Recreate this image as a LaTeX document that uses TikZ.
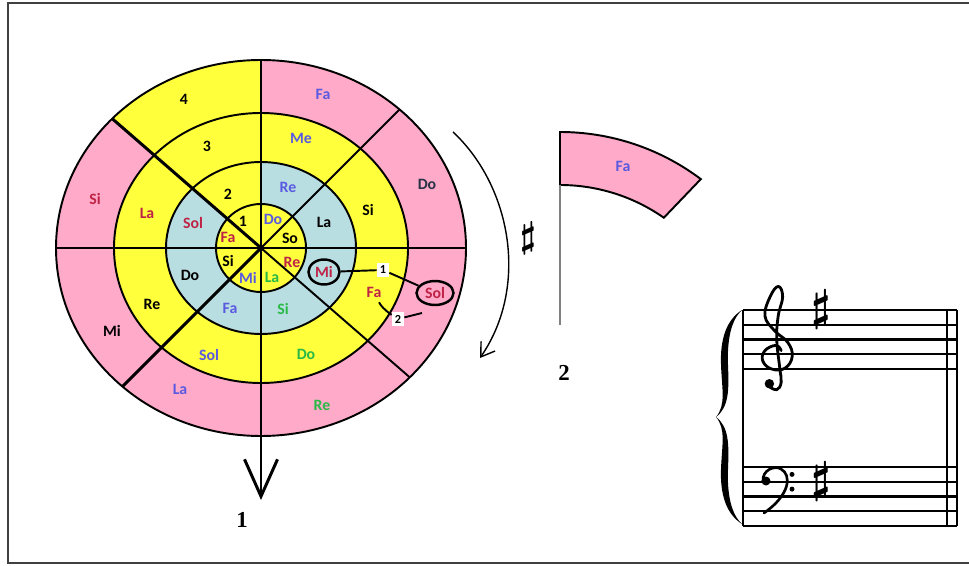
\documentclass[tikz,border=0pt]{standalone}
\usepackage{fontspec}
\setmainfont{Carlito}
\newfontfamily\numfont{Liberation Serif}
\usetikzlibrary{arrows.meta, shapes.geometric}

\definecolor{wheelpink}{RGB}{255,170,201}
\definecolor{wheelyellow}{RGB}{255,255,60}
\definecolor{wheelblue}{RGB}{185,222,226}
\definecolor{noteblue}{RGB}{90,90,225}
\definecolor{notered}{RGB}{190,35,70}
\definecolor{notegreen}{RGB}{40,185,70}
\definecolor{notedark}{RGB}{40,50,70}

\begin{document}
\begin{tikzpicture}[x=0.02cm, y=0.02cm,
  lbl/.style={font=\fontsize{9}{10}\selectfont\bfseries, inner sep=0pt},
  numbox/.style={fill=white, font=\fontsize{7}{8}\selectfont\bfseries, inner sep=1pt, minimum width=0.24cm, minimum height=0.28cm},
  ring/.style={line width=1.1pt},
  staffline/.style={line width=1.3pt},
  sharpsign/.style={inner sep=0pt, font=\boldmath\fontsize{25}{25}\selectfont},
  clefline/.style={line width=1.6pt, line cap=round, line join=round},
  bignum/.style={font=\numfont\bfseries\fontsize{13}{14}\selectfont}]
  \useasboundingbox (0,0) rectangle (969,565);

  % Frame
  \draw[line width=1.1pt, black!75] (980,2) -- (8,2) -- (8,562) -- (980,562);

  % Wheel: coloured rings, outer to inner
  \coordinate (C) at (261,317);
  \fill[wheelpink] (C) ellipse [x radius=205, y radius=188];
  \begin{scope}
    \clip (C) ellipse [x radius=205, y radius=188];
    \fill[wheelyellow] (C) -- +(90:400) -- +(115:400) -- +(139:400) -- cycle;
  \end{scope}
  \fill[wheelyellow] (C) ellipse [x radius=147, y radius=135];
  \fill[wheelblue] (C) ellipse [x radius=95, y radius=86];
  \begin{scope}
    \clip (C) ellipse [x radius=95, y radius=86];
    \fill[wheelyellow] (C) -- +(90:400) -- +(115:400) -- +(139:400) -- cycle;
  \end{scope}
  \fill[wheelyellow] (C) ellipse [x radius=45, y radius=44];

  % Ring borders
  \draw[ring] (C) ellipse [x radius=205, y radius=188];
  \draw[ring] (C) ellipse [x radius=147, y radius=135];
  \draw[ring] (C) ellipse [x radius=95, y radius=86];
  \draw[ring] (C) ellipse [x radius=45, y radius=44];

  % Spokes
  \draw[ring] (C) ++(-205,0) -- ++(410,0);
  \draw[ring] (C) -- ++(0,188);
  \begin{scope}
    \clip (C) ellipse [x radius=205, y radius=188];
    \draw[ring] (C) -- +(45:300);
    \draw[ring] (C) -- +(319:300);
    \draw[line width=1.7pt] (C) -- +(139:300);
    \draw[line width=1.7pt] (C) -- +(225:300);
  \end{scope}
  \fill (C) circle (3);

  % Down arrow
  \coordinate (arrowEnd) at (261,65);
  \draw[line width=1.7pt, -{Straight Barb[length=7.4mm, width=6.6mm]}] (C) -- (arrowEnd);
  \node[bignum] (stepOne) at (242,45) {1};

  % Outer ring
  \node[lbl, noteblue] (faOut) at (323,471) {Fa};
  \node[lbl, notedark] (doOut) at (427,381) {Do};
  \node[lbl, notered, ellipse, draw=black, line width=1.4pt, minimum width=0.74cm, minimum height=0.48cm] (solOut) at (435,272) {Sol};
  \node[lbl, notegreen] (reOut) at (322,160) {Re};
  \node[lbl, noteblue] (laOut) at (180,176) {La};
  \node[lbl] (miOut) at (112,234) {Mi};
  \node[lbl, notered] (siOut) at (95,366) {Si};
  \node[lbl] (fourOut) at (184,466) {4};

  % Third ring
  \node[lbl, noteblue] (meThree) at (301,427) {Me};
  \node[lbl] (siThree) at (368,355) {Si};
  \node[lbl, notered] (faThree) at (374,273) {Fa};
  \node[lbl, notegreen] (doThree) at (306,211) {Do};
  \node[lbl, noteblue] (solThree) at (209,210) {Sol};
  \node[lbl] (reThree) at (152,261) {Re};
  \node[lbl, notered] (laThree) at (147,352) {La};
  \node[lbl] (threeThree) at (207,419) {3};

  % Second ring
  \node[lbl, noteblue] (reTwo) at (288,378) {Re};
  \node[lbl] (laTwo) at (324,343) {La};
  \node[lbl, notered, ellipse, draw=black, line width=1.4pt, minimum width=0.62cm, minimum height=0.5cm] (miTwo) at (324,293) {Mi};
  \node[lbl, notegreen] (siTwo) at (283,256) {Si};
  \node[lbl, noteblue] (faTwo) at (230,257) {Fa};
  \node[lbl] (doTwo) at (190,290) {Do};
  \node[lbl, notered] (solTwo) at (193,342) {Sol};
  \node[lbl] (twoTwo) at (228,371) {2};

  % Inner ring
  \node[lbl, noteblue] (doOne) at (273,346) {Do};
  \node[lbl] (soOne) at (290,327) {So};
  \node[lbl, notered] (reOne) at (292,303) {Re};
  \node[lbl, notegreen] (laOne) at (272,288) {La};
  \node[lbl, noteblue] (miOne) at (248,287) {Mi};
  \node[lbl] (siOne) at (228,304) {Si};
  \node[lbl, notered] (faOne) at (228,328) {Fa};
  \node[lbl] (oneOne) at (243,344) {1};

  % Steps Mi -> Fa -> Sol
  \node[numbox] (boxOne) at (383,295) {1};
  \node[numbox] (boxTwo) at (398,246) {2};
  \coordinate (solFoot) at (422,252);
  \draw[ring] (miTwo) -- (boxOne);
  \draw[ring] (boxOne) -- (solOut);
  \draw[ring, shorten <=3pt] (faThree) to[bend right=15] (boxTwo);
  \draw[ring] (boxTwo) -- (solFoot);

  % Turning arrow and sharp
  \draw[line width=0.8pt, -{Straight Barb[length=2.6mm, width=3.4mm]}] (453,433) .. controls (510,380) and (530,280) .. (480,207);
  \node[sharpsign, font=\boldmath\fontsize{21}{21}\selectfont] (sharpWheel) at (528,327) {$\sharp$};

  % Single Fa piece
  \draw[line width=1.1pt, fill=wheelpink] ([shift={(560,199)}]90:234) arc[start angle=90, end angle=53, radius=234]
    -- ([shift={(560,199)}]55:181) arc[start angle=55, end angle=90, radius=181] -- cycle;
  \node[lbl, noteblue] (faPiece) at (623,399) {Fa};
  \draw[gray, line width=0.8pt] (560,380) -- (560,240);
  \node[bignum] (stepTwo) at (564,192) {2};

  % Grand staff
  \draw[staffline] (743,255) -- (957,255) (743,240.25) -- (957,240.25) (743,225.5) -- (957,225.5)
    (743,210.75) -- (957,210.75) (743,196) -- (957,196);
  \draw[staffline] (743,98) -- (957,98) (743,83.25) -- (957,83.25) (743,68.5) -- (957,68.5)
    (743,53.75) -- (957,53.75) (743,39) -- (957,39);
  \draw[staffline] (743,255) -- (743,39);
  \draw[staffline] (947,255) -- (947,39);
  \draw[line width=1.6pt] (957,255) -- (957,39);
  % Brace
  \fill (742,255) .. controls (726,245) and (720,225) .. (721,200) .. controls (722,175) and (726,160) .. (716,148)
    .. controls (726,136) and (722,121) .. (721,96) .. controls (720,71) and (726,51) .. (742,41)
    .. controls (731,51) and (727,71) .. (728,96) .. controls (729,121) and (729,138) .. (716,148)
    .. controls (729,158) and (729,175) .. (728,200) .. controls (727,225) and (731,245) .. (742,255) -- cycle;
  % Treble clef
  \begin{scope}[shift={(776,210.75)}, x=0.295cm, y=0.295cm]
    \draw[clefline] plot[smooth, tension=0.7] coordinates {(0.35,0.25) (0,0.6) (-0.75,0.25) (-0.9,-0.45) (-0.3,-1) (0.6,-0.95)
      (1.1,-0.15) (0.8,0.8) (-0.1,1.6) (-0.75,2.6) (-0.4,3.9) (0.15,4.6) (0.45,3.9) (0.15,2.6) (0.05,1)
      (0.25,-0.9) (0.35,-1.9) (0.05,-2.4) (-0.45,-2.2)};
    \fill (-0.45,-2) circle (0.32);
  \end{scope}
  % Bass clef
  \draw[line width=1.5pt, line cap=round] (763,84) .. controls (762,95) and (775,100) .. (781,96)
    .. controls (792,90) and (790,70) .. (764,52);
  \fill (766,84) circle (4.5);
  \fill (792,90.6) circle (2.5);
  \fill (792,75.9) circle (2.5);
  % Key signature
  \node[sharpsign] (trebleSharp) at (821,255) {$\sharp$};
  \node[sharpsign] (bassSharp) at (821,83.25) {$\sharp$};
\end{tikzpicture}
\end{document}
